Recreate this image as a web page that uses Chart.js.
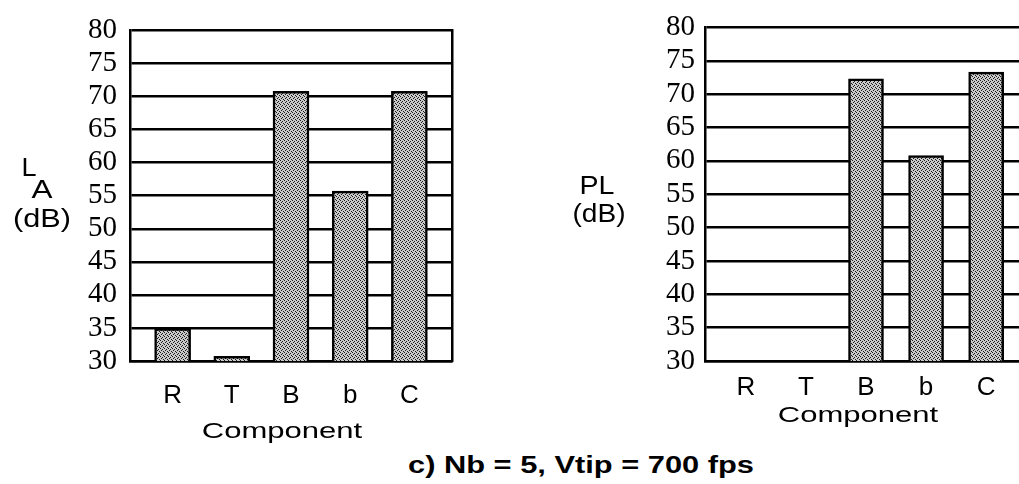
<!DOCTYPE html>
<html>
<head>
<meta charset="utf-8">
<script src="https://cdn.jsdelivr.net/npm/chart.js@4.4.1/dist/chart.umd.min.js"></script>
<style>
  html, body { margin: 0; padding: 0; background: #fff; overflow: hidden; width: 1019px; height: 484px; }
  #left { position: absolute; left: 0; top: 0; }
  #right { position: absolute; left: 520px; top: 0; }
  #caption { position: absolute; left: 381px; top: 452px; width: 400px; text-align: center; white-space: nowrap;
             font: bold 23px "Liberation Sans", Arial, sans-serif; color: #000; transform: scaleX(1.34); }
</style>
</head>
<body>
<canvas id="left" width="470" height="450"></canvas>
<canvas id="right" width="520" height="450"></canvas>
<div id="caption">c) Nb = 5, Vtip = 700 fps</div>
<script>
const components = ['R', 'T', 'B', 'b', 'C'];
const yTicks = [30, 35, 40, 45, 50, 55, 60, 65, 70, 75, 80];
const laValues = [34.9, 30.7, 70.8, 55.7, 70.8];   // A-weighted level
const plValues = [null, null, 72.3, 60.8, 73.3];   // PL, no R/T bars

const sans = '"Liberation Sans", Arial, sans-serif';

// dotted grey fill used on every bar
function stipple() {
  const c = document.createElement('canvas');
  c.width = 4; c.height = 4;
  const g = c.getContext('2d');
  g.fillStyle = '#cacaca';
  g.fillRect(0, 0, 4, 4);
  g.fillStyle = '#1a1a1a';
  g.fillRect(0, 0, 1, 1);
  g.fillRect(2, 1, 1, 1);
  g.fillRect(1, 2, 1, 1);
  g.fillRect(3, 3, 1, 1);
  return g.createPattern(c, 'repeat');
}

// free-standing text (L with subscript A, PL, (dB), Component), wide lettering
const sideLabel = {
  id: 'sideLabel',
  afterDraw(chart, args, opts) {
    const ctx = chart.ctx;
    for (const t of opts.lines || []) {
      ctx.save();
      ctx.fillStyle = '#000';
      ctx.textAlign = 'center';
      ctx.textBaseline = 'middle';
      ctx.font = t.font;
      ctx.translate(t.x, t.y);
      ctx.scale(t.sx || 1, 1);
      ctx.fillText(t.text, 0, 0);
      ctx.restore();
    }
  }
};

function makeChart(id, values, o) {
  return new Chart(document.getElementById(id), {
    type: 'bar',
    data: {
      datasets: [{
        data: values.map((v, i) => ({ x: i, y: v })),
        backgroundColor: stipple(),
        borderColor: '#000',
        borderWidth: 2.5,
        barThickness: o.barWidth
      }]
    },
    plugins: [sideLabel],
    options: {
      responsive: false,
      animation: false,
      layout: { padding: { top: 24, left: 0, right: o.padRight, bottom: 0 } },
      plugins: {
        legend: { display: false },
        tooltip: { enabled: false },
        sideLabel: { lines: o.lines }
      },
      scales: {
        x: {
          type: 'linear',
          offset: false,
          min: -o.edge,
          max: components.length - 1 + o.edge,
          afterFit: s => { s.height = 89; },
          grid: { display: false, drawTicks: false, offset: false },
          border: { display: true, color: '#000', width: 2.5 },
          ticks: {
            stepSize: 1,
            includeBounds: false,
            autoSkip: false,
            maxRotation: 0,
            padding: o.xPad,
            color: '#000',
            font: { family: sans, size: 26 },
            callback: v => components[v]
          }
        },
        y: {
          min: yTicks[0],
          max: yTicks[yTicks.length - 1],
          afterFit: s => { s.width = o.yWidth; },
          grid: { color: '#000', lineWidth: 2.5, drawTicks: false },
          border: { display: true, color: '#000', width: 2.5 },
          ticks: {
            stepSize: yTicks[1] - yTicks[0],
            autoSkip: false,
            padding: o.yPad,
            color: '#000',
            font: { family: '"Liberation Serif", "Times New Roman", serif', size: 29 }
          }
        },
        edge: {
          type: 'linear',
          position: 'right',
          display: o.rightBorder,
          afterFit: s => { s.width = 0; },
          grid: { display: false, drawTicks: false },
          border: { display: true, color: '#000', width: 2.5 },
          ticks: { display: false }
        }
      }
    }
  });
}

makeChart('left', laValues, {
  barWidth: 36, padRight: 18, edge: 0.72, yWidth: 130, yPad: 13, xPad: 19,
  rightBorder: true,
  lines: [
    { text: 'L', x: 29, y: 169, font: '25px ' + sans, sx: 1.08 },
    { text: 'A', x: 42, y: 191, font: '25px ' + sans, sx: 1.26 },
    { text: '(dB)', x: 42, y: 220, font: '26px ' + sans, sx: 1.18 },
    { text: 'Component', x: 282, y: 432, font: '22px ' + sans, sx: 1.41 }
  ]
});

makeChart('right', plValues, {
  barWidth: 35, padRight: 13, edge: 0.68, yWidth: 185, yPad: 10, xPad: 11,
  rightBorder: false,
  lines: [
    { text: 'PL', x: 77, y: 187, font: '26px ' + sans, sx: 1.1 },
    { text: '(dB)', x: 79, y: 215, font: '26px ' + sans, sx: 1.08 },
    { text: 'Component', x: 338, y: 416, font: '22px ' + sans, sx: 1.41 }
  ]
});
</script>
</body>
</html>
